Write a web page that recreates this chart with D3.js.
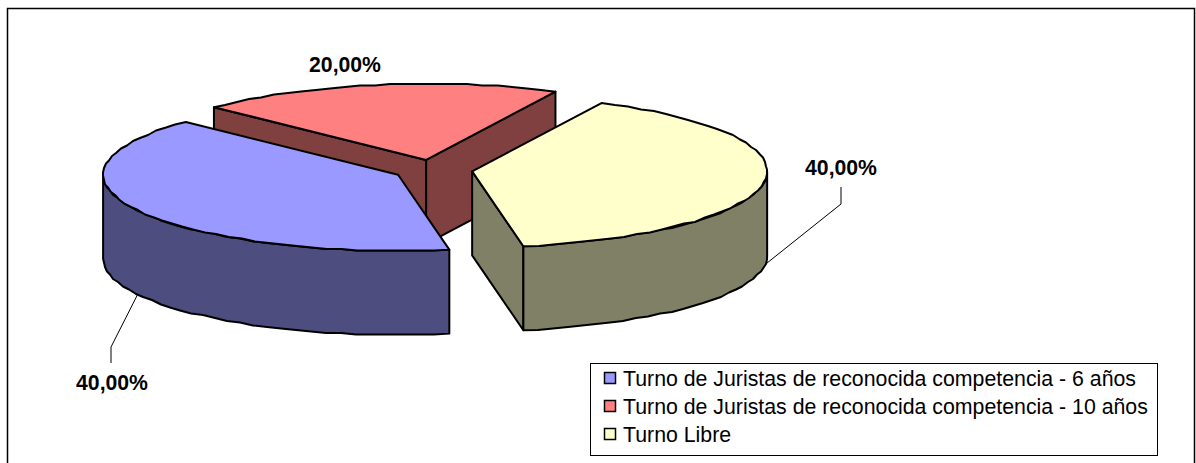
<!DOCTYPE html>
<html>
<head>
<meta charset="utf-8">
<script src="https://cdn.jsdelivr.net/npm/d3@7/dist/d3.min.js"></script>
<style>
    html, body {margin: 0; padding: 0; background: #fff;}
    svg {display: block;}
    text {font-family: "Liberation Sans", Arial, sans-serif; fill: #000;}
</style>
</head>
<body>
<div class="content"></div>
<script>
const categories = [
    'Turno de Juristas de reconocida competencia - 6 años',
    'Turno de Juristas de reconocida competencia - 10 años',
    'Turno Libre'
];
const values = [40, 20, 40];
const valueLabels = ['40,00%', '20,00%', '40,00%'];
const topColors = ['#9999ff', '#ff8080', '#ffffcc'];
const sideColors = ['#4d4d80', '#804040', '#808066'];

(function () {
    const width = 1196, height = 463;
    const rad = Math.PI / 180;

    // pie geometry
    const center = {x: 433, y: 170};
    const rx = 295, ry = 76, depth = 84;
    const explode = 0.134;

    let svg = d3.select('.content').append('svg')
        .attr('width', width)
        .attr('height', height);

    // frame of the chart, bottom edge is cut by the window
    svg.append('rect')
        .attr('x', 7.5).attr('y', 8.5)
        .attr('width', 1187).attr('height', 470)
        .attr('fill', '#fff').attr('stroke', '#000').attr('stroke-width', 1.5);

    let pie = d3.pie().sort(null)
        .startAngle(170 * rad)
        .endAngle(530 * rad);
    let slices = pie(values);

    // unit circle -> screen, the tilt of the pie is in the ranges
    let xScale = d3.scaleLinear().domain([-1, 1]).range([center.x - rx, center.x + rx]);
    let yScale = d3.scaleLinear().domain([-1, 1]).range([center.y - ry, center.y + ry]);

    function point(s, a, r, drop) {
        let mid = (s.startAngle + s.endAngle) / 2;
        let ux = Math.sin(mid) * explode + Math.sin(a) * r;
        let uy = -Math.cos(mid) * explode - Math.cos(a) * r;
        return [xScale(ux), yScale(uy) + (drop ? depth : 0)];
    }

    // rim sampled coarsely and snapped to pixels, gives the wobbly edge of the original
    // end points stay exact so the corners meet the radial edges
    function rim(s, a0, a1, drop) {
        let n = Math.max(2, Math.round(Math.abs(a1 - a0) / (3 * rad)));
        return d3.range(n + 1).map(function (i) {
            let p = point(s, a0 + (a1 - a0) * i / n, 1, drop);
            if (i === 0 || i === n) return p;
            return [Math.round(p[0]), Math.round(p[1] / 1.5) * 1.5];
        });
    }

    let line = d3.line().curve(d3.curveLinear);

    function face(pts, fill) {
        svg.append('path')
            .attr('d', line(pts) + 'Z')
            .attr('fill', fill)
            .attr('stroke', '#000')
            .attr('stroke-width', 2)
            .attr('stroke-linejoin', 'round');
    }

    function radialWall(s, a, fill) {
        face([point(s, a, 0, false), point(s, a, 1, false), point(s, a, 1, true), point(s, a, 0, true)], fill);
    }

    function outerWall(s, a0, a1, fill) {
        let top = rim(s, a0, a1, false);
        let bottom = rim(s, a0, a1, true).reverse();
        face(top.concat(bottom), fill);
    }

    function topFace(s, fill) {
        face([point(s, 0, 0, false)].concat(rim(s, s.startAngle, s.endAngle, false)), fill);
    }

    // back to front: red, blue, yellow
    let blue = slices[0], red = slices[1], yellow = slices[2];

    radialWall(red, red.startAngle, sideColors[1]);
    radialWall(red, red.endAngle, sideColors[1]);
    topFace(red, topColors[1]);

    outerWall(blue, blue.startAngle, 270 * rad, sideColors[0]);
    topFace(blue, topColors[0]);

    radialWall(yellow, yellow.endAngle, sideColors[2]);
    outerWall(yellow, 450 * rad, yellow.endAngle, sideColors[2]);
    topFace(yellow, topColors[2]);

    // leader lines: rim angle, elbow, end of the stub
    let leaders = [
        {i: 0, angle: 242, elbow: [111, 347], end: [111, 363]},
        {i: 2, angle: 97, elbow: [841, 204], end: [841, 187]}
    ];
    leaders.forEach(function (d) {
        svg.append('path')
            .attr('d', line([point(slices[d.i], d.angle * rad, 1, true), d.elbow, d.end]))
            .attr('fill', 'none')
            .attr('stroke', '#000')
            .attr('stroke-width', 1);
    });

    let labelPos = [[112, 382], [345, 64], [841, 167]];
    valueLabels.forEach(function (t, i) {
        svg.append('text')
            .attr('x', labelPos[i][0]).attr('y', labelPos[i][1] + 7.5)
            .attr('text-anchor', 'middle')
            .attr('font-size', 21.2)
            .attr('font-weight', 'bold')
            .text(t);
    });

    // legend
    let legend = svg.append('g').attr('transform', 'translate(590,363)');
    legend.append('rect')
        .attr('x', 0.5).attr('y', 0.5)
        .attr('width', 567).attr('height', 92)
        .attr('fill', '#fff').attr('stroke', '#000');

    let legendY = d3.scalePoint().domain(categories).range([15, 71]);
    categories.forEach(function (c, i) {
        legend.append('rect')
            .attr('x', 14.5).attr('y', legendY(c) - 5.5)
            .attr('width', 11).attr('height', 11)
            .attr('fill', topColors[i]).attr('stroke', '#000').attr('stroke-width', 1.5);
        legend.append('text')
            .attr('x', 33).attr('y', legendY(c) + 7.5)
            .attr('font-size', 21.3)
            .text(c);
    });
})();
</script>
</body>
</html>
